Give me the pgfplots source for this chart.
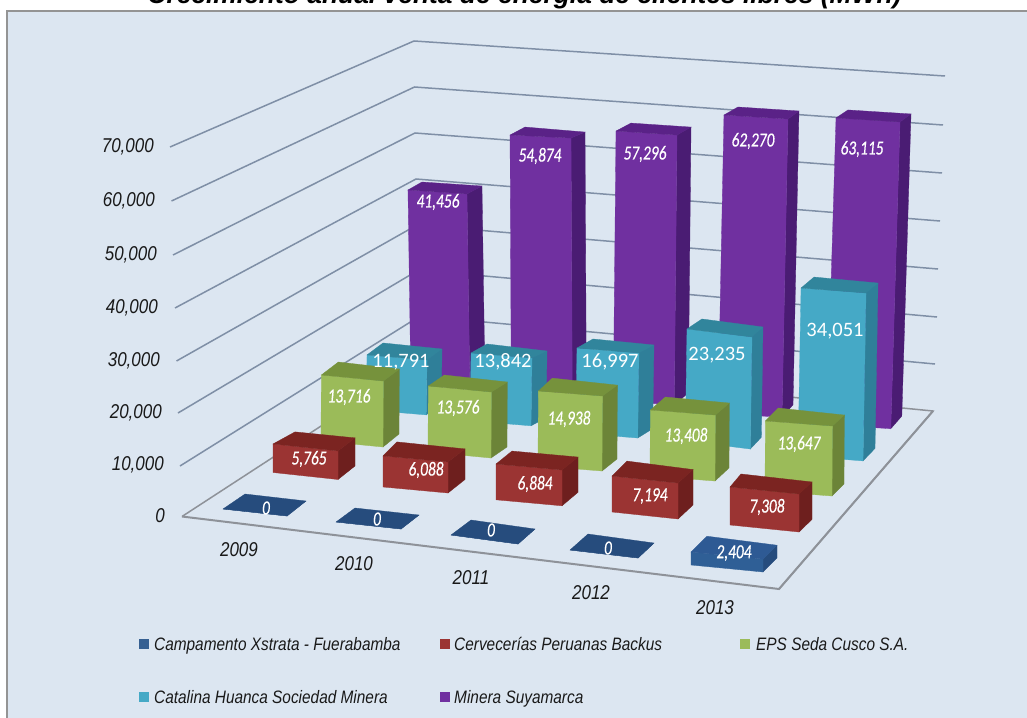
\documentclass[border=0pt]{standalone}
\usepackage{fontspec}
\usepackage{pgfplots}
\pgfplotsset{compat=1.18}
\setmainfont{Liberation Sans}
\newfontfamily\lab{Carlito}
\newfontface\labit[FakeBold=0.5]{Carlito Italic}
\definecolor{Pfront}{HTML}{7030A0}\definecolor{Ptop}{HTML}{5A2287}\definecolor{Pside}{HTML}{4A1C73}
\definecolor{Cfront}{HTML}{45A9C6}\definecolor{Ctop}{HTML}{31859C}\definecolor{Cside}{HTML}{2F7F99}
\definecolor{Gfront}{HTML}{9BBB59}\definecolor{Gtop}{HTML}{76923C}\definecolor{Gside}{HTML}{6C8438}
\definecolor{Rfront}{HTML}{9B3433}\definecolor{Rtop}{HTML}{7B2421}\definecolor{Rside}{HTML}{6E1F1E}
\definecolor{Bfront}{HTML}{2F5F96}\definecolor{Btop}{HTML}{2E5A94}\definecolor{Bside}{HTML}{264C7D}
\definecolor{Zfront}{HTML}{264C7D}\definecolor{Ztop}{HTML}{264C7D}\definecolor{Zside}{HTML}{264C7D}
\definecolor{Lblue}{HTML}{366092}
\definecolor{panel}{HTML}{DCE6F1}
\definecolor{grid}{HTML}{7F8FA6}
\definecolor{floorline}{HTML}{8E9299}
% A bar: series, value, px per unit, lean, then the four corners of its foot on the floor
\def\Bar#1#2#3#4#5#6#7#8#9{%
  \edef\h{\fpeval{round(#2*#3,3)}}\edef\dx{\fpeval{round(#4*\h,3)}}\edef\hb{\fpeval{round(.985*\h,3)}}%
  \BarB{#1}{#5}{#6}{#7}{#8}{#9}}
\def\BarB#1#2#3#4#5#6#7#8#9{%
  \pgfmathsetmacro\ax{#2+\dx}\pgfmathsetmacro\ay{#3-\h}%
  \pgfmathsetmacro\bx{#4+\dx}\pgfmathsetmacro\by{#5-\h}%
  \pgfmathsetmacro\cx{#6+\dx}\pgfmathsetmacro\cy{#7-\hb}%
  \pgfmathsetmacro\ex{#8+\dx}\pgfmathsetmacro\ey{#9-\hb}%
  \addplot[fill=#1side,draw=#1side,line width=.3pt] coordinates {(#4,#5)(#6,#7)(\cx,\cy)(\bx,\by)} --cycle;
  \addplot[fill=#1front,draw=#1front,line width=.3pt] coordinates {(#2,#3)(#4,#5)(\bx,\by)(\ax,\ay)} --cycle;
  \addplot[fill=#1top,draw=#1top,line width=.3pt] coordinates {(\ax,\ay)(\bx,\by)(\cx,\cy)(\ex,\ey)} --cycle;
}
\newcommand\VL[3]{\node[anchor=center,inner sep=0,text=white] at (axis cs:#1,#2) {\fontsize{20}{22}\selectfont\labit\scalebox{.77}[1]{#3}};}
\newcommand\CL[3]{\node[anchor=center,inner sep=0,text=white] at (axis cs:#1,#2) {\fontsize{20.5}{22}\selectfont\lab #3};}
\newcommand\TL[3]{\node[anchor=east,inner sep=0,text=black!90] at (axis cs:#1,#2) {\fontsize{20}{22}\selectfont\itshape\scalebox{.85}[1]{#3}};}
\newcommand\YL[3]{\node[anchor=center,inner sep=0,text=black!90] at (axis cs:#1,#2) {\fontsize{20}{22}\selectfont\itshape\scalebox{.85}[1]{#3}};}
\newcommand\LE[3]{\node[anchor=base west,inner sep=0,text=black!90] at (axis cs:#1,#2) {\fontsize{18}{20}\selectfont\itshape\scalebox{.855}[1]{#3}};}
\begin{document}
\begin{tikzpicture}
\path[use as bounding box] (0,0) rectangle (1027pt,717pt);
\clip (0,0) rectangle (1027pt,717pt);
\begin{axis}[at={(0,0)},anchor=south west,scale only axis,width=1027pt,height=717pt,
  xmin=0,xmax=1027,ymin=0,ymax=717,y dir=reverse,hide axis,clip=false,mark=none]
% panel
\addplot[fill=panel,draw=none] coordinates {(7,11)(1040,11)(1040,730)(7,730)} --cycle;
\addplot[draw=black!42,line width=1.5pt] coordinates {(7,730)(7,11)(1040,11)};
% walls
\addplot[draw=grid,line width=1.5pt] coordinates {(170,147)(414,41)(945,76)};
\addplot[draw=grid,line width=1.5pt] coordinates {(171.5,201)(414.5,87)(943,125)};
\addplot[draw=grid,line width=1.5pt] coordinates {(173,255)(415,133)(942,173)};
\addplot[draw=grid,line width=1.5pt] coordinates {(175,308)(416,179)(940,221)};
\addplot[draw=grid,line width=1.5pt] coordinates {(176.5,361)(417,225)(938,269)};
\addplot[draw=grid,line width=1.5pt] coordinates {(178,413)(418.5,270)(937,317)};
\addplot[draw=grid,line width=1.5pt] coordinates {(180,466)(420,316)(935,364)};
% floor
\addplot[draw=floorline,line width=1.5pt] coordinates {(779,589)(933,411)(421,361)(182,516.5)};
\addplot[draw=floorline,line width=2pt] coordinates {(182,516.5)(779,589)(933,411)};
% Minera Suyamarca
\Bar{P}{41456}{.00455}{-.015}{410.8}{378.6}{469.8}{382.6}{484.8}{371.8}{424.8}{367.8}
\Bar{P}{54874}{.00465}{-.005}{511.3}{390.2}{572.3}{393.2}{586.3}{383.4}{526.3}{378.4}
\Bar{P}{57296}{.00471}{.01}{613.3}{400.9}{674.3}{404.9}{688.3}{392.9}{628.3}{388.9}
\Bar{P}{62270}{.00479}{.02}{718}{413.3}{782}{417.3}{793}{404.8}{732}{400.8}
\Bar{P}{63115}{.00486}{.03}{826.8}{424.7}{890.8}{428.7}{901.8}{416.1}{838.8}{412.1}
% Catalina Huanca
\Bar{C}{11791}{.00466}{.015}{366.2}{409.9}{426.2}{414.9}{441.2}{403.1}{382.2}{397.1}
\Bar{C}{13842}{.0049}{.015}{470}{420.8}{531}{425.8}{546}{417.8}{486}{410.8}
\Bar{C}{16997}{.0050}{.015}{575.7}{433}{637.7}{438}{652.7}{428.7}{591.7}{422.7}
\Bar{C}{23235}{.00482}{.015}{685.3}{441}{750.3}{449}{761.3}{437.3}{700.3}{429.3}
\Bar{C}{34051}{.00493}{.018}{798}{455.9}{863}{460.9}{875}{448.4}{811}{442.4}
% EPS Seda Cusco
\Bar{G}{13716}{.00481}{.005}{321}{441}{383}{447}{399}{434}{338}{427}
\Bar{G}{13576}{.00486}{.005}{428}{452}{491}{458}{507}{447}{444}{440}
\Bar{G}{14938}{.00502}{.005}{538}{466}{602}{471}{617}{459}{552}{452}
\Bar{G}{13408}{.00492}{.005}{650}{476}{715}{481}{729}{468}{665}{462}
\Bar{G}{13647}{.00513}{.005}{765}{491}{832}{496}{844}{484}{778}{477}
% Cervecerias
\Bar{R}{5765}{.00495}{0}{273}{472.5}{338}{479.5}{355}{466}{295}{460}
\Bar{R}{6088}{.0051}{0}{383}{487}{448}{493}{465}{479.5}{397}{472.5}
\Bar{R}{6884}{.0052}{0}{496}{499.8}{562}{505.8}{578}{492.3}{512}{486.3}
\Bar{R}{7194}{.0050}{0}{612}{512}{678}{519}{693}{505}{627}{496.5}
\Bar{R}{7308}{.0052}{0}{730}{525}{799}{532}{812}{519.4}{741}{511.4}
% Campamento Xstrata
\Bar{Z}{0}{.0054}{0}{223}{509}{287}{516}{306}{501}{245}{494}
\Bar{Z}{0}{.0054}{0}{336}{522}{401}{529}{419}{515}{355}{508}
\Bar{Z}{0}{.0054}{0}{451}{535}{518}{544}{535}{529}{471}{520}
\Bar{Z}{0}{.0054}{0}{570}{550}{638}{558}{654}{543}{588}{534}
\Bar{B}{2404}{.0054}{0}{691}{565}{763}{572}{777}{558}{707}{549}
% data labels
\VL{438}{202}{41,456}\VL{540}{156}{54,874}\VL{645}{154}{57,296}\VL{753}{141}{62,270}\VL{862}{149}{63,115}
\CL{401}{362}{11,791}\CL{503}{362}{13,842}\CL{610}{362}{16,997}\CL{717}{355}{23,235}\CL{835}{331}{34,051}
\VL{349}{397}{13,716}\VL{458}{408}{13,576}\VL{569}{419}{14,938}\VL{686}{436}{13,408}\VL{799}{444}{13,647}
\VL{309}{459}{5,765}\VL{426}{470}{6,088}\VL{535}{484}{6,884}\VL{650}{496}{7,194}\VL{767}{507}{7,308}
\VL{266}{508}{0}\VL{377}{519}{0}\VL{491}{530}{0}\VL{608}{548}{0}\VL{734}{553}{2,404}
% value axis
\TL{154}{147}{70,000}\TL{155}{201}{60,000}\TL{157}{255}{50,000}\TL{158}{308}{40,000}
\TL{160}{361}{30,000}\TL{162}{413}{20,000}\TL{164}{465}{10,000}\TL{165}{516}{0}
% years
\YL{239}{550}{2009}\YL{354}{564}{2010}\YL{471}{578}{2011}\YL{591}{593}{2012}\YL{715}{608}{2013}
% legend
\addplot[fill=Lblue,draw=none] coordinates {(139,639)(149,639)(149,649)(139,649)} --cycle;
\addplot[fill=Rfront,draw=none] coordinates {(440,639)(450,639)(450,649)(440,649)} --cycle;
\addplot[fill=Gfront,draw=none] coordinates {(740,639)(750,639)(750,649)(740,649)} --cycle;
\addplot[fill=Cfront,draw=none] coordinates {(139,692)(149,692)(149,702)(139,702)} --cycle;
\addplot[fill=Pfront,draw=none] coordinates {(440,692)(450,692)(450,702)(440,702)} --cycle;
\LE{154}{650}{Campamento Xstrata - Fuerabamba}
\LE{454}{650}{Cervecerías Peruanas Backus}
\LE{756}{650}{EPS Seda Cusco S.A.}
\LE{154}{703}{Catalina Huanca Sociedad Minera}
\LE{454}{703}{Minera Suyamarca}
% title
\node[anchor=base,inner sep=0] at (axis cs:524.5,4) {\fontsize{26.4}{28}\selectfont\bfseries\itshape Crecimiento anual venta de energía de clientes libres (MWh)};
\end{axis}
\end{tikzpicture}
\end{document}
